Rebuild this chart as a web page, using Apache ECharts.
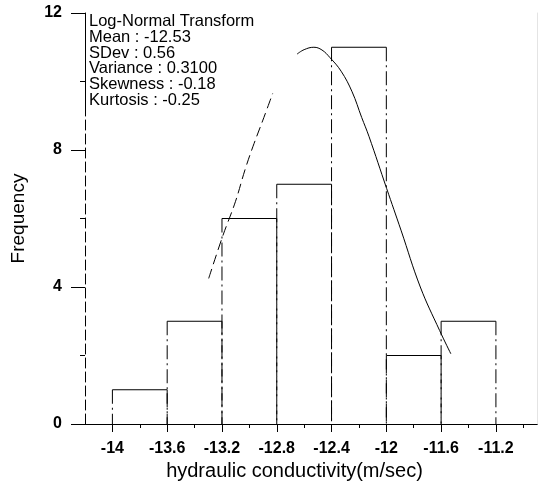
<!DOCTYPE html>
<html>
<head>
<meta charset="utf-8">
<script src="https://cdn.jsdelivr.net/npm/echarts@6/dist/echarts.min.js"></script>
<style>
html,body{margin:0;padding:0;background:#fff;}
#chart{width:539px;height:486px;}
</style>
</head>
<body>
<div id="chart"></div>
<script>
// ---- data ----
var binEdges = [-14, -13.6, -13.2, -12.8, -12.4, -12, -11.6, -11.2];
var counts = [1, 3, 6, 7, 11, 2, 3];
var xTickLabels = [-14, -13.6, -13.2, -12.8, -12.4, -12, -11.6, -11.2];
var xMinorTicks = [-13.8, -13.4, -13.0, -12.6, -12.2, -11.8, -11.4, -11.0];
var yTickLabels = [0, 4, 8, 12];
var yMinorTicks = [2, 6, 10];
// fitted curve (left dashed part, right solid part)
var curveLeftX = [-13.297, -13.196, -13.102, -13.032, -12.973, -12.894, -12.83];
var curveLeftY = [4.25, 5.47, 6.49, 7.42, 8.11, 8.95, 9.65];
var curveRightX = [-12.652, -12.60, -12.529, -12.47, -12.412, -12.33, -12.25, -12.18, -12.127, -11.998, -11.893, -11.752, -11.611, -11.529];
var curveRightY = [10.80, 10.93, 11.0, 10.92, 10.70, 10.30, 9.70, 8.95, 8.40, 6.88, 5.66, 4.00, 2.73, 2.05];
var statsLines = ['Log-Normal Transform', 'Mean : -12.53', 'SDev : 0.56', 'Variance : 0.3100', 'Skewness : -0.18', 'Kurtosis : -0.25'];

var FONT = '"Liberation Sans", Arial, sans-serif';
var bins = [];
for (var i = 0; i < counts.length; i++) bins.push([binEdges[i], binEdges[i + 1], counts[i]]);
function pairs(xs, ys) { var r = []; for (var i = 0; i < xs.length; i++) r.push([xs[i], ys[i]]); return r; }

var chart = echarts.init(document.getElementById('chart'), null, {renderer: 'canvas'});
var option = {
  backgroundColor: '#ffffff',
  animation: false,
  grid: {left: 85, right: 2, top: 13, bottom: 62, containLabel: false, outerBoundsMode: 'none'},
  xAxis: [
    {
      type: 'value', min: -14.2, max: -10.9, position: 'bottom',
      name: 'hydraulic conductivity(m/sec)', nameLocation: 'middle', nameGap: 37,
      nameTextStyle: {fontFamily: FONT, fontSize: 20, color: '#000', padding: [0, 33, 0, 0]},
      axisLine: {show: true, onZero: false, lineStyle: {color: '#000', width: 1}},
      axisTick: {show: true, customValues: xTickLabels, length: 8, inside: false, lineStyle: {color: '#000'}},
      axisLabel: {show: true, customValues: xTickLabels, margin: 17, fontFamily: FONT, fontSize: 16, fontWeight: 'bold', color: '#000',
        formatter: function (v) { return String(Math.round(v * 10) / 10); }},
      splitLine: {show: false}
    },
    {
      type: 'value', min: -14.2, max: -10.9, position: 'bottom',
      axisLine: {show: false},
      axisTick: {show: true, customValues: xMinorTicks, length: 4, lineStyle: {color: '#000'}},
      axisLabel: {show: false}, splitLine: {show: false}
    },
    {
      type: 'value', min: -14.2, max: -10.9, position: 'top',
      axisLine: {show: true, lineStyle: {color: '#000', width: 1}},
      axisTick: {show: false}, axisLabel: {show: false}, splitLine: {show: false}
    }
  ],
  yAxis: [
    {
      type: 'value', min: 0, max: 12, position: 'left',
      name: 'Frequency', nameLocation: 'middle', nameGap: 57, nameRotate: 90,
      nameTextStyle: {fontFamily: FONT, fontSize: 19, color: '#000'},
      axisLine: {show: true, lineStyle: {color: '#000', width: 1, type: [10, 4]}},
      axisTick: {show: true, customValues: yTickLabels, length: 14, lineStyle: {color: '#000'}},
      axisLabel: {show: true, customValues: yTickLabels, margin: 23, fontFamily: FONT, fontSize: 16, fontWeight: 'bold', color: '#000'},
      splitLine: {show: false}
    },
    {
      type: 'value', min: 0, max: 12, position: 'left',
      axisLine: {show: false},
      axisTick: {show: true, customValues: yMinorTicks, length: 5, lineStyle: {color: '#000'}},
      axisLabel: {show: false}, splitLine: {show: false}
    },
    {
      type: 'value', min: 0, max: 12, position: 'right',
      axisLine: {show: true, lineStyle: {color: '#e4e4e4', width: 1}},
      axisTick: {show: false}, axisLabel: {show: false}, splitLine: {show: false}
    }
  ],
  series: [
    {
      type: 'custom',
      xAxisIndex: 0, yAxisIndex: 0,
      data: bins,
      renderItem: function (params, api) {
        var x0 = api.value(0), x1 = api.value(1), c = api.value(2);
        var pTL = api.coord([x0, c]), pTR = api.coord([x1, c]);
        var pBL = api.coord([x0, 0]), pBR = api.coord([x1, 0]);
        return {
          type: 'group',
          children: [
            {type: 'line', shape: {x1: pTL[0], y1: pTL[1], x2: pTR[0], y2: pTR[1]},
              style: {stroke: '#000', lineWidth: 1}},
            {type: 'line', shape: {x1: pTL[0], y1: pTL[1], x2: pBL[0], y2: pBL[1]},
              style: {stroke: '#000', lineWidth: 1, lineDash: [14, 4, 2, 4]}},
            {type: 'line', shape: {x1: pTR[0], y1: pTR[1], x2: pBR[0], y2: pBR[1]},
              style: {stroke: '#000', lineWidth: 1, lineDash: [14, 4, 2, 4]}}
          ]
        };
      }
    },
    {
      type: 'line', xAxisIndex: 0, yAxisIndex: 0,
      data: pairs(curveLeftX, curveLeftY), smooth: 0.4, symbol: 'none',
      lineStyle: {color: '#000', width: 1, type: [10, 5]}
    },
    {
      type: 'line', xAxisIndex: 0, yAxisIndex: 0,
      data: pairs(curveRightX, curveRightY), smooth: 0.4, symbol: 'none',
      lineStyle: {color: '#000', width: 1}
    }
  ],
  graphic: [
    {
      type: 'line', silent: true,
      shape: {x1: 85.5, y1: 13, x2: 85.5, y2: 108},
      style: {stroke: '#000', lineWidth: 1}
    },
    {
      type: 'text', left: 89, top: 13, silent: true,
      style: {text: statsLines.join('\n'), fontFamily: FONT, fontSize: 16.5, lineHeight: 15.8, fill: '#000'}
    }
  ]
};
chart.setOption(option);
</script>
</body>
</html>
